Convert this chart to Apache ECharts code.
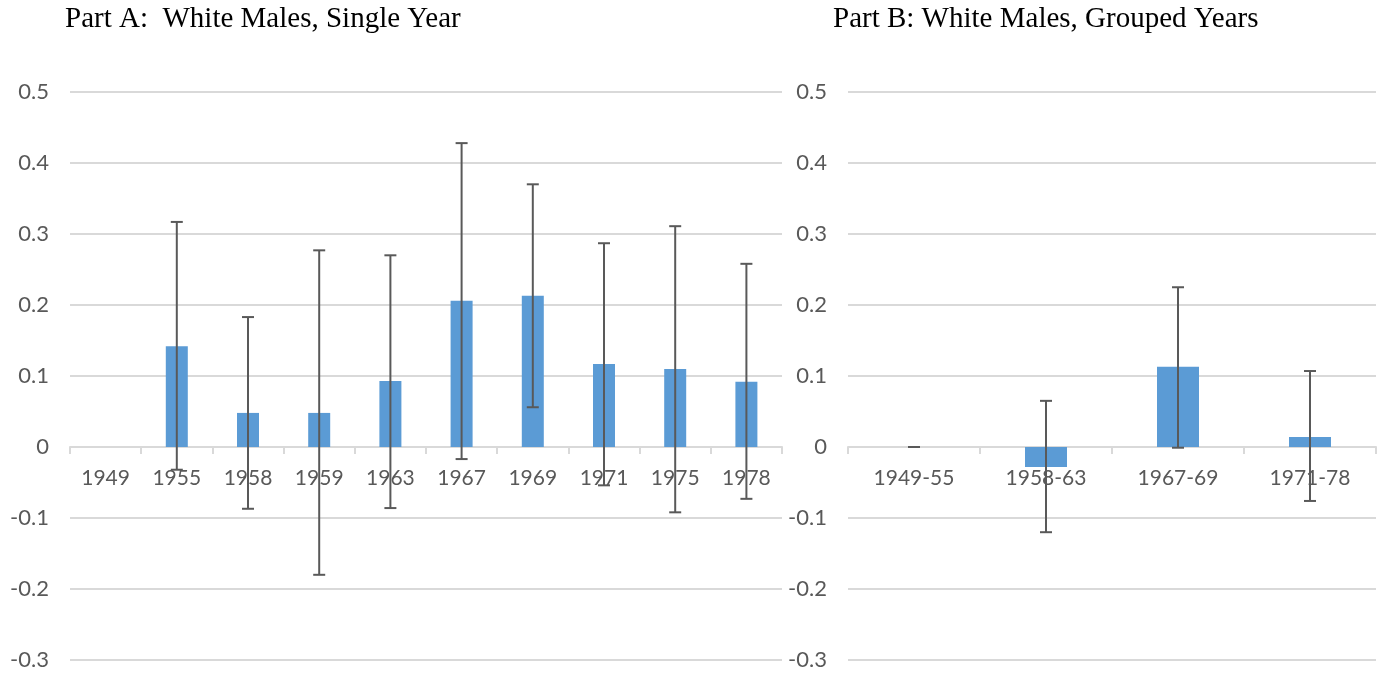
<!DOCTYPE html>
<html><head><meta charset="utf-8">
<script src="https://cdn.jsdelivr.net/npm/echarts@6/dist/echarts.min.js"></script>
<style>html,body{margin:0;padding:0;background:#fff}#c{width:1388px;height:673px}</style>
</head><body><div id="c"></div>
<script>
const titleA = "Part A:  White Males, Single Year";
const titleB = "Part B: White Males, Grouped Years";
const yTicks = [-0.3, -0.2, -0.1, 0, 0.1, 0.2, 0.3, 0.4, 0.5];

const catsA = ["1949","1955","1958","1959","1963","1967","1969","1971","1975","1978"];
const valsA = [0, 0.142, 0.048, 0.048, 0.093, 0.206, 0.213, 0.117, 0.110, 0.092];
const hiA   = [null, 0.317, 0.183, 0.277, 0.270, 0.428, 0.370, 0.287, 0.311, 0.258];
const loA   = [null, -0.032, -0.087, -0.180, -0.086, -0.017, 0.056, -0.054, -0.092, -0.073];

const catsB = ["1949-55","1958-63","1967-69","1971-78"];
const valsB = [0, -0.028, 0.113, 0.014];
const hiB   = [0.0, 0.065, 0.225, 0.107];
const loB   = [0.0, -0.120, -0.001, -0.076];

const fontAxis = "Lato, 'Open Sans', sans-serif";
const grey = '#595959';

function errData(cats, hi, lo){
  const out = [];
  cats.forEach((c,i)=>{ if(hi[i]!==null) out.push([i, hi[i], lo[i]]); });
  return out;
}
function errRender(params, api){
  const x = api.value(0);
  const pH = api.coord([x, api.value(1)]);
  const pL = api.coord([x, api.value(2)]);
  const cap = 6;
  const st = {stroke:'#595959', lineWidth:2};
  return {type:'group', children:[
    {type:'line', shape:{x1:pH[0],y1:pH[1],x2:pL[0],y2:pL[1]}, style:st},
    {type:'line', shape:{x1:pH[0]-cap,y1:pH[1],x2:pH[0]+cap,y2:pH[1]}, style:st},
    {type:'line', shape:{x1:pL[0]-cap,y1:pL[1],x2:pL[0]+cap,y2:pL[1]}, style:st}
  ]};
}
function xAx(idx, cats){
  return {type:'category', gridIndex:idx, data:cats,
    axisLine:{onZero:true, lineStyle:{color:'#d9d9d9', width:2}},
    axisTick:{show:true, length:7, lineStyle:{color:'#d9d9d9', width:2}},
    axisLabel:{show:false},
    splitLine:{show:false}, z:1};
}
function yAx(idx){
  return {type:'value', gridIndex:idx, min:-0.3, max:0.5, interval:0.1,
    axisLine:{show:false}, axisTick:{show:false},
    axisLabel:{color:grey, fontFamily:fontAxis, fontSize:22, margin:21,
      formatter:v=>{ const r=Math.round(v*10)/10; return yTicks.includes(r)? String(r):''; }},
    splitLine:{lineStyle:{color:'#d9d9d9', width:2}}};
}
function labSeries(idx, cats){
  return {type:'custom', xAxisIndex:idx, yAxisIndex:idx, data:cats.map((c,i)=>[i,0]), encode:{x:0,y:1}, z:3,
    renderItem:(params, api)=>{
      const i = api.value(0);
      const p = api.coord([i, 0]);
      return {type:'text', x:p[0], y:p[1]+31, style:{text:cats[i], align:'center', verticalAlign:'middle', fill:grey, font:"21px Lato, 'Open Sans', sans-serif"}};
    }};
}
const chart = echarts.init(document.getElementById('c'));
chart.setOption({
  animation:false,
  title:[
    {text:titleA, left:65, top:5, padding:0, textStyle:{fontFamily:"'Liberation Serif', serif", fontSize:29, fontWeight:'normal', color:'#000'}},
    {text:titleB, left:833, top:5, padding:0, textStyle:{fontFamily:"'Liberation Serif', serif", fontSize:29, fontWeight:'normal', color:'#000'}}
  ],
  grid:[
    {left:70, top:92, width:712, height:568, outerBoundsMode:'none', containLabel:false},
    {left:848, top:92, width:528, height:568, outerBoundsMode:'none', containLabel:false}
  ],
  xAxis:[xAx(0,catsA), xAx(1,catsB)],
  yAxis:[yAx(0), yAx(1)],
  series:[
    {type:'bar', xAxisIndex:0, yAxisIndex:0, data:valsA, barWidth:22, itemStyle:{color:'#5b9bd5'}},
    labSeries(0, catsA),
    {type:'custom', xAxisIndex:0, yAxisIndex:0, data:errData(catsA,hiA,loA), renderItem:errRender, encode:{x:0,y:[1,2]}, z:5},
    {type:'bar', xAxisIndex:1, yAxisIndex:1, data:valsB, barWidth:42, itemStyle:{color:'#5b9bd5'}},
    labSeries(1, catsB),
    {type:'custom', xAxisIndex:1, yAxisIndex:1, data:errData(catsB,hiB,loB), renderItem:errRender, encode:{x:0,y:[1,2]}, z:5}
  ]
});
</script></body></html>
